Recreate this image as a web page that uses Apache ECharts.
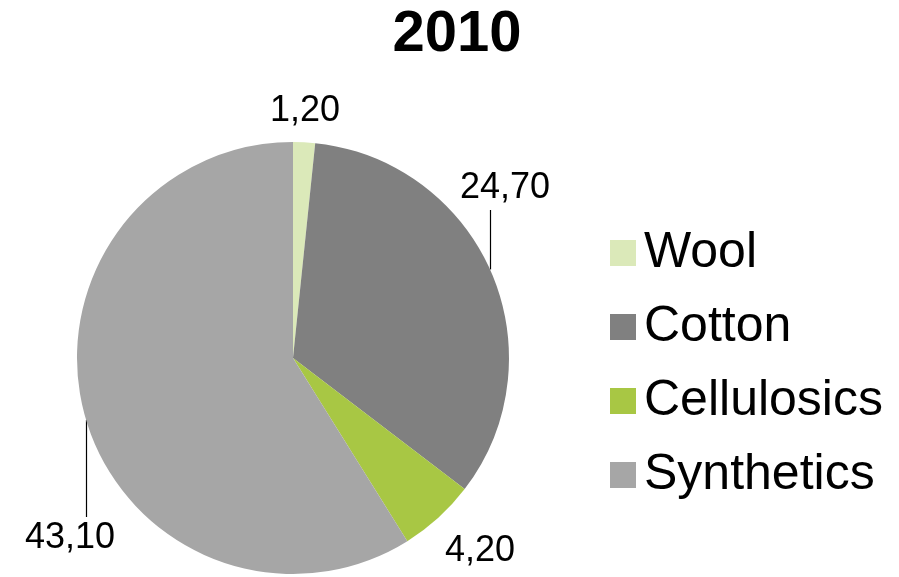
<!DOCTYPE html>
<html>
<head>
<meta charset="utf-8">
<script src="https://cdn.jsdelivr.net/npm/echarts@6/dist/echarts.min.js"></script>
<style>
html, body { margin: 0; padding: 0; background: #fff; }
#main { width: 899px; height: 577px; }
</style>
</head>
<body>
<div id="main"></div>
<script>
var categories = ['Wool', 'Cotton', 'Cellulosics', 'Synthetics'];
var values = [1.20, 24.70, 4.20, 43.10];
var colors = ['#dbe9b9', '#808080', '#a8c744', '#a6a6a6'];

var FONT = 'Liberation Sans, Arial, sans-serif';
var cx = 293, cy = 358, r = 216;

// where each value label sits, and the x of its vertical leader line (null = none)
var labelPos = [[305, 111], [505, 188], [480, 551], [70, 538]];
var leaderX = [null, 490, null, 86];

var myChart = echarts.init(document.getElementById('main'));

var data = categories.map(function (name, i) {
	return {
		name: name,
		value: values[i],
		itemStyle: { color: colors[i] },
		labelLine: { show: leaderX[i] !== null }
	};
});

option = {
	backgroundColor: '#ffffff',
	animation: false,
	title: {
		text: '2010',
		left: 457,
		top: 6,
		padding: 0,
		textAlign: 'center',
		textStyle: { fontFamily: FONT, fontSize: 58, fontWeight: 'bold', color: '#000', lineHeight: 58 }
	},
	legend: {
		orient: 'vertical',
		left: 605,
		top: 223,
		icon: 'rect',
		itemWidth: 26,
		itemHeight: 26,
		itemGap: 24,
		selectedMode: false,
		data: categories,
		textStyle: { fontFamily: FONT, fontSize: 50, color: '#000', lineHeight: 50, padding: [0, 0, 0, 3] }
	},
	series: [{
		type: 'pie',
		center: [cx, cy],
		radius: [0, r],
		startAngle: 90,
		clockwise: true,
		avoidLabelOverlap: false,
		itemStyle: { borderWidth: 0 },
		emphasis: { disabled: true },
		label: {
			show: true,
			position: 'outside',
			fontFamily: FONT,
			fontSize: 36,
			color: '#000',
			formatter: function (p) {
				return p.value.toFixed(2).replace('.', ',');
			}
		},
		labelLine: {
			lineStyle: { color: '#000', width: 1.2 }
		},
		labelLayout: function (params) {
			var i = params.dataIndex;
			var out = {
				x: labelPos[i][0],
				y: labelPos[i][1],
				align: 'center',
				verticalAlign: 'middle'
			};
			var lx = leaderX[i];
			if (lx !== null) {
				var dy = Math.sqrt(r * r - (lx - cx) * (lx - cx));
				var px = lx + 0.5;
				if (labelPos[i][1] < cy) {
					out.labelLinePoints = [[px, labelPos[i][1] + 22], [px, cy - dy], [px, cy - dy]];
				} else {
					out.labelLinePoints = [[px, cy + dy], [px, labelPos[i][1] - 21], [px, labelPos[i][1] - 21]];
				}
			}
			return out;
		},
		data: data
	}]
};

myChart.setOption(option);
</script>
</body>
</html>
